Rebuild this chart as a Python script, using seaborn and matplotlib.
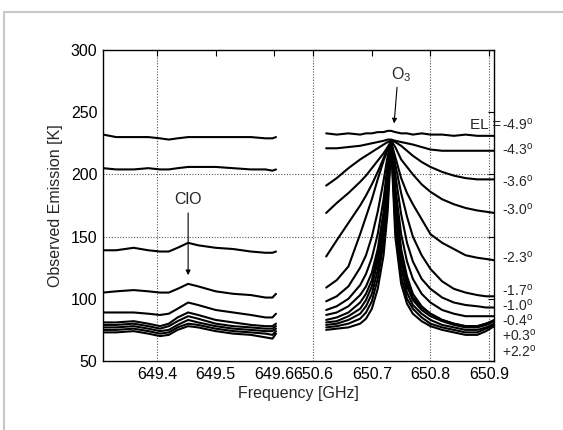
import numpy as np
import pandas as pd
import matplotlib
matplotlib.use("Agg")
import matplotlib.pyplot as plt
import seaborn as sns
from matplotlib.lines import Line2D

# ---------------- data ----------------
# left window (ClO), GHz
f_left = [649.308, 649.33, 649.36, 649.385, 649.405, 649.42, 649.435, 649.453,
          649.47, 649.50, 649.53, 649.56, 649.585, 649.597, 649.603]
left_spectra = [
    [232, 230, 230, 230, 229, 228, 229, 230, 230, 230, 230, 230, 229, 229, 230],
    [205, 204, 204, 205, 204, 204, 205, 206, 206, 206, 205, 204, 204, 203, 204],
    [139, 139, 141, 139, 138, 138, 141, 145, 143, 141, 140, 138, 137, 137, 138],
    [105, 106, 107, 106, 105, 105, 108, 112, 110, 106, 104, 103, 101, 101, 104],
    [89, 89, 89, 88, 87, 88, 92, 97, 95, 91, 89, 87, 85, 85, 88],
    [81, 81, 82, 80, 78, 80, 85, 89, 87, 83, 81, 79, 78, 78, 80],
    [79, 79, 80, 78, 76, 78, 82, 86, 84, 80, 78, 77, 76, 76, 78],
    [77, 77, 78, 76, 74, 75, 79, 83, 81, 78, 76, 75, 74, 74, 76],
    [75, 75, 76, 74, 72, 73, 77, 80, 79, 76, 74, 73, 72, 71, 74],
    [73, 73, 74, 72, 70, 71, 75, 78, 77, 74, 72, 71, 69, 68, 72],
]

# right window (O3), GHz
f_right = [650.622, 650.64, 650.66, 650.68, 650.69, 650.70, 650.71, 650.72, 650.727,
           650.733, 650.74, 650.75, 650.76, 650.77, 650.785, 650.80, 650.82, 650.84,
           650.86, 650.88, 650.895, 650.909]
right_spectra = [
    [233, 232, 233, 232, 233, 233, 234, 234, 235, 235, 234, 233, 233, 232, 233, 232, 232, 231, 232, 231, 231, 231],
    [221, 221, 222, 223, 224, 225, 226, 227, 228, 228, 227, 226, 225, 224, 222, 220, 219, 219, 219, 219, 219, 219],
    [191, 197, 205, 212, 215, 218, 221, 224, 226, 227, 226, 223, 219, 215, 210, 206, 202, 199, 197, 196, 196, 196],
    [169, 177, 185, 194, 199, 205, 211, 217, 222, 227, 222, 212, 206, 200, 192, 186, 180, 176, 173, 171, 170, 169],
    [134, 147, 161, 175, 183, 192, 202, 213, 221, 226, 214, 197, 185, 176, 164, 152, 145, 140, 135, 133, 132, 131],
    [109, 115, 126, 152, 166, 180, 196, 211, 220, 226, 208, 185, 166, 150, 135, 124, 114, 108, 105, 103, 102, 102],
    [98, 102, 110, 125, 135, 150, 170, 195, 215, 226, 200, 168, 145, 130, 116, 108, 101, 97, 95, 94, 93, 93],
    [91, 94, 100, 111, 120, 133, 152, 180, 208, 225, 190, 152, 130, 116, 104, 97, 91, 88, 86, 86, 86, 86],
    [87, 89, 94, 103, 110, 121, 140, 170, 203, 225, 182, 140, 118, 104, 94, 88, 83, 80, 78, 78, 80, 83],
    [83, 85, 89, 97, 104, 115, 135, 165, 199, 225, 178, 136, 114, 101, 93, 88, 83, 80, 78, 78, 80, 82],
    [81, 82, 86, 92, 99, 110, 130, 160, 195, 225, 174, 132, 110, 99, 91, 86, 82, 79, 77, 77, 79, 82],
    [79, 80, 83, 88, 94, 104, 123, 153, 188, 225, 167, 125, 105, 95, 88, 83, 79, 77, 75, 75, 77, 80],
    [77, 78, 80, 84, 89, 98, 116, 145, 180, 224, 160, 118, 100, 92, 85, 80, 77, 75, 73, 73, 76, 79],
    [75, 76, 77, 80, 84, 92, 108, 135, 170, 224, 150, 112, 96, 88, 82, 78, 75, 73, 71, 71, 74, 78],
]

el_labels = ["-4.9", "-4.3", "-3.6", "-3.0", "-2.3", "-1.7", "-1.0", "-0.4", "+0.3", "+2.2"]
el_label_y = [239.8, 219.7, 194.0, 171.6, 133.0, 106.5, 94.5, 82.5, 70.5, 57.5]

tick_freqs_left = [649.4, 649.5, 649.6]
tick_freqs_right = [650.6, 650.7, 650.8, 650.9]

# broken-axis mapping: left window from 649.0, right window shifted to sit after a gap
GAP_LEFT0 = 649.0
RIGHT0 = 650.6 - 0.6 - 0.0667

def u_left(f):
    return np.asarray(f) - GAP_LEFT0

def u_right(f):
    return np.asarray(f) - RIGHT0

rows = []
for i, s in enumerate(left_spectra):
    for f, v in zip(f_left, s):
        rows.append(("L%d" % i, float(u_left(f)), v))
for i, s in enumerate(right_spectra):
    for f, v in zip(f_right, s):
        rows.append(("R%d" % i, float(u_right(f)), v))
df = pd.DataFrame(rows, columns=["curve", "u", "T"])

# ---------------- plotting ----------------
sns.set_theme(style="white")
plt.rcParams["font.family"] = ["Liberation Sans", "DejaVu Sans"]
plt.rcParams["mathtext.fontset"] = "custom"
plt.rcParams["mathtext.rm"] = "Liberation Sans"
plt.rcParams["mathtext.it"] = "Liberation Sans"

fig = plt.figure(figsize=(5.63, 4.30), dpi=100)
ax = fig.add_axes([0.183, 0.1605, 0.6944, 0.7232])

sns.lineplot(data=df, x="u", y="T", units="curve", estimator=None, sort=False,
             color="black", lw=1.5, ax=ax, legend=False)

xmin, xmax = 0.3077, 0.9752
ax.set_xlim(xmin, xmax)
ax.set_ylim(50, 300)

xt = list(u_left(tick_freqs_left)) + list(u_right(tick_freqs_right))
xl = ["%.1f" % f for f in tick_freqs_left + tick_freqs_right]
ax.set_xticks(xt)
ax.set_xticklabels(xl)
ax.set_yticks([50, 100, 150, 200, 250, 300])

ax.tick_params(direction="in", top=True, right=True, length=4, width=0.8,
               labelsize=11.5, pad=4, colors="black")
for sp in ax.spines.values():
    sp.set_color("black")
    sp.set_linewidth(1.0)

# dotted grid lines (only those visible in the scan)
for f in [u_left(649.4), u_right(650.6), u_right(650.8), u_right(650.9)]:
    ax.axvline(f, color="#555555", lw=0.8, ls=(0, (1, 1.5)), zorder=0)
for yv in [150, 200]:
    ax.axhline(yv, color="#555555", lw=0.8, ls=(0, (1, 1.5)), zorder=0)

ax.set_xlabel("Frequency [GHz]", fontsize=11.5, labelpad=3)
ax.set_ylabel("Observed Emission [K]", fontsize=11.5, labelpad=6)

# annotations
ax.text(u_left(649.452), 179.6, "ClO", fontsize=11.5, ha="center", va="center")
ax.annotate("", xy=(u_left(649.453), 119), xytext=(u_left(649.453), 169),
            arrowprops=dict(arrowstyle="-|>", lw=0.8, color="black",
                            mutation_scale=7, shrinkA=0, shrinkB=0))
ax.text(u_right(650.75), 280, "O$_3$", fontsize=11.5, ha="center", va="center")
ax.annotate("", xy=(u_right(650.738), 241), xytext=(u_right(650.743), 270),
            arrowprops=dict(arrowstyle="-|>", lw=0.8, color="black",
                            mutation_scale=7, shrinkA=0, shrinkB=0))

trans = ax.get_yaxis_transform()
xl_lab = (502 - 103) / 391.0
ax.text((470 - 103) / 391.0, el_label_y[0], "EL =", fontsize=11, ha="left",
        va="center", transform=trans, clip_on=False)
for lab, yv in zip(el_labels, el_label_y):
    ax.text(xl_lab, yv, lab + "$^{\\mathrm{o}}$", fontsize=10, ha="left",
            va="center", transform=trans, clip_on=False)

# light gray page frame (left and top edges)
fig.add_artist(Line2D([4 / 563, 4 / 563], [0, 1 - 12 / 430], transform=fig.transFigure,
                      color="#c8c8c8", lw=1.5))
fig.add_artist(Line2D([4 / 563, 1], [1 - 12 / 430, 1 - 12 / 430], transform=fig.transFigure,
                      color="#c8c8c8", lw=1.5))

fig.savefig("out.png", dpi=100)
